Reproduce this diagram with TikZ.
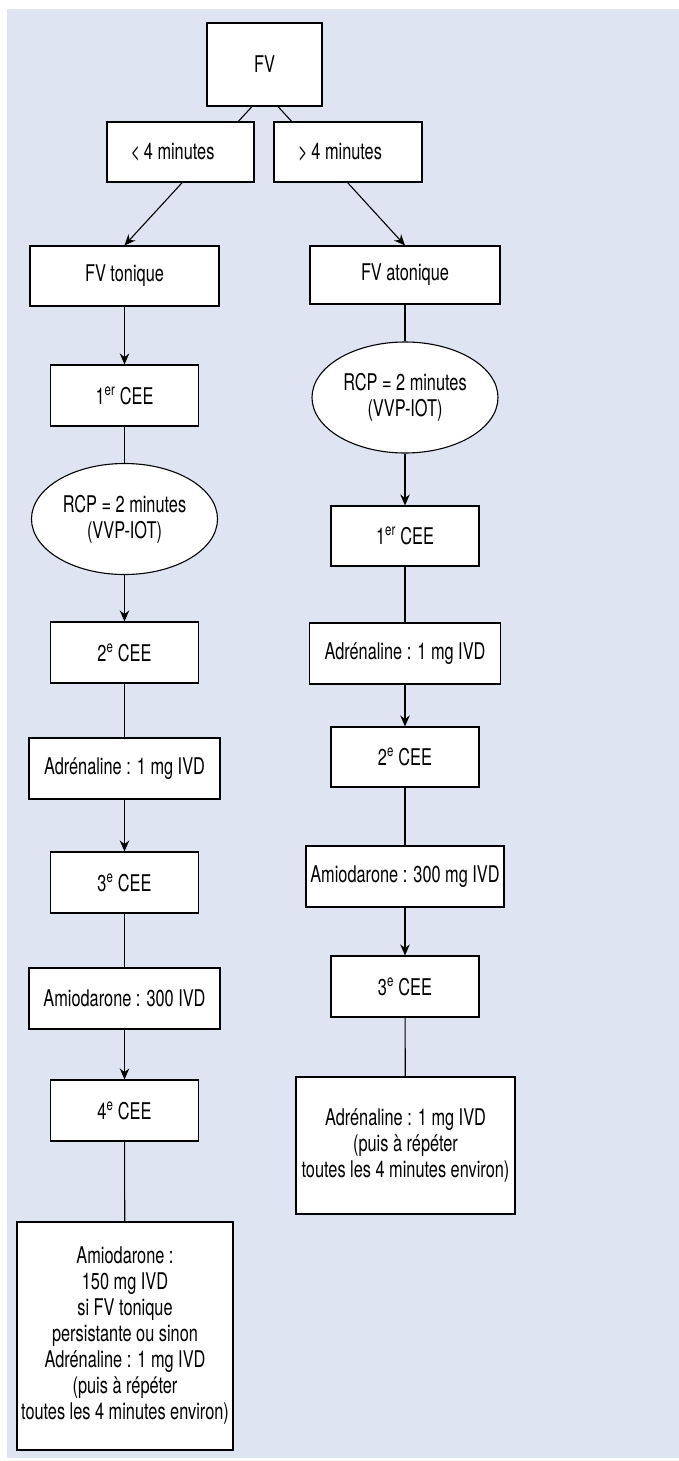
\documentclass[tikz,border=0pt]{standalone}
\usepackage{fontspec}
\setmainfont{TeX Gyre Heros}[FakeStretch=0.71]
\usepackage{tikz}
\usetikzlibrary{calc}
\usetikzlibrary{shapes.geometric}
\usetikzlibrary{arrows.meta}
\definecolor{panel}{RGB}{222,228,242}

\begin{document}
\begin{tikzpicture}
  [
    x=1pt, y=-1pt,
    >={Stealth[length=11pt,width=9.5pt]},
    line width=1.1pt,
    box/.style  = {draw, rectangle, fill=white, align=center, inner sep=0pt, minimum height=61pt},
    cee/.style  = {box, minimum width=148pt},
    drug/.style = {box, minimum width=191pt},
    rcp/.style  = {draw, ellipse, fill=white, align=center, inner sep=0pt, minimum width=186pt, minimum height=111pt},
  ]

  \tikzstyle{every node}=[font=\fontsize{23}{26}\selectfont]

  % the panel
  \useasboundingbox (0,0) rectangle (679,1461);
  \fill[panel] (7,9) rectangle (679,1458);

  \def\lx{124.5}
  \def\rx{405}

  \node (fv) at (264.5,64.5) [box, minimum width=115pt, minimum height=83pt] {FV};
  \node (tonique) at (\lx,276) [box, minimum width=189pt, minimum height=60pt] {FV tonique};
  \node (atonique) at (\rx,275) [box, minimum width=190pt, minimum height=58pt] {FV atonique};

  % left branch
  \node (cee1l) at (\lx,395.5) [cee] {1\textsuperscript{er} CEE};
  \node (rcpl) at (\lx,519) [rcp] {RCP = 2 minutes\\(VVP-IOT)};
  \node (cee2l) at (\lx,652.5) [cee] {2\textsuperscript{e} CEE};
  \node (adrl) at (\lx,768.5) [drug] {Adrénaline : 1 mg IVD};
  \node (cee3l) at (\lx,882.5) [cee] {3\textsuperscript{e} CEE};
  \node (amiol) at (\lx,998.5) [drug] {Amiodarone : 300 IVD};
  \node (cee4l) at (\lx,1110.5) [cee] {4\textsuperscript{e} CEE};
  \node (endl) at (125,1336) [box, minimum width=216pt, minimum height=228pt]
    {Amiodarone :\\150 mg IVD\\si FV tonique\\persistante ou sinon\\Adrénaline : 1 mg IVD\\(puis à répéter\\toutes les 4 minutes environ)};

  % right branch
  \node (rcpr) at (\rx,397.5) [rcp] {RCP = 2 minutes\\(VVP-IOT)};
  \node (cee1r) at (\rx,536) [cee, minimum height=60pt] {1\textsuperscript{er} CEE};
  \node (adrr) at (\rx,653.5) [drug] {Adrénaline : 1 mg IVD};
  \node (cee2r) at (\rx,757) [cee, minimum height=60pt] {2\textsuperscript{e} CEE};
  \node (amior) at (\rx,876.5) [drug, minimum width=198pt] {Amiodarone : 300 mg IVD};
  \node (cee3r) at (\rx,986.5) [cee] {3\textsuperscript{e} CEE};
  \node (endr) at (405.5,1145.5) [box, minimum width=219pt, minimum height=137pt]
    {Adrénaline : 1 mg IVD\\(puis à répéter\\toutes les 4 minutes environ)};

  % split under FV
  \draw[->] ($(fv.south)+(-12.5,0)$) -- (tonique.north);
  \draw[->] ($(fv.south)+(13.5,0)$) -- (atonique.north);

  \draw[->] (tonique) -- (cee1l);
  \draw (cee1l) -- (rcpl);
  \draw[->] (rcpl) -- (cee2l);
  \draw (cee2l) -- (adrl);
  \draw[->] (adrl) -- (cee3l);
  \draw (cee3l) -- (amiol);
  \draw[->] (amiol) -- (cee4l);
  \draw (cee4l) -- (endl);

  \draw (atonique) -- (rcpr);
  \draw[->] (rcpr) -- (cee1r);
  \draw (cee1r) -- (adrr);
  \draw[->] (adrr) -- (cee2r);
  \draw (cee2r) -- (amior);
  \draw[->] (amior) -- (cee3r);
  \draw (cee3r) -- (endr);

  % delay boxes sit on the split lines
  \node (less) at (180.5,152) [box, minimum width=147pt, minimum height=60pt] {<\,4 minutes\hspace{16pt}};
  \node (more) at (348,152) [box, minimum width=148pt, minimum height=60pt] {>\,4 minutes\hspace{16pt}};

\end{tikzpicture}
\end{document}
